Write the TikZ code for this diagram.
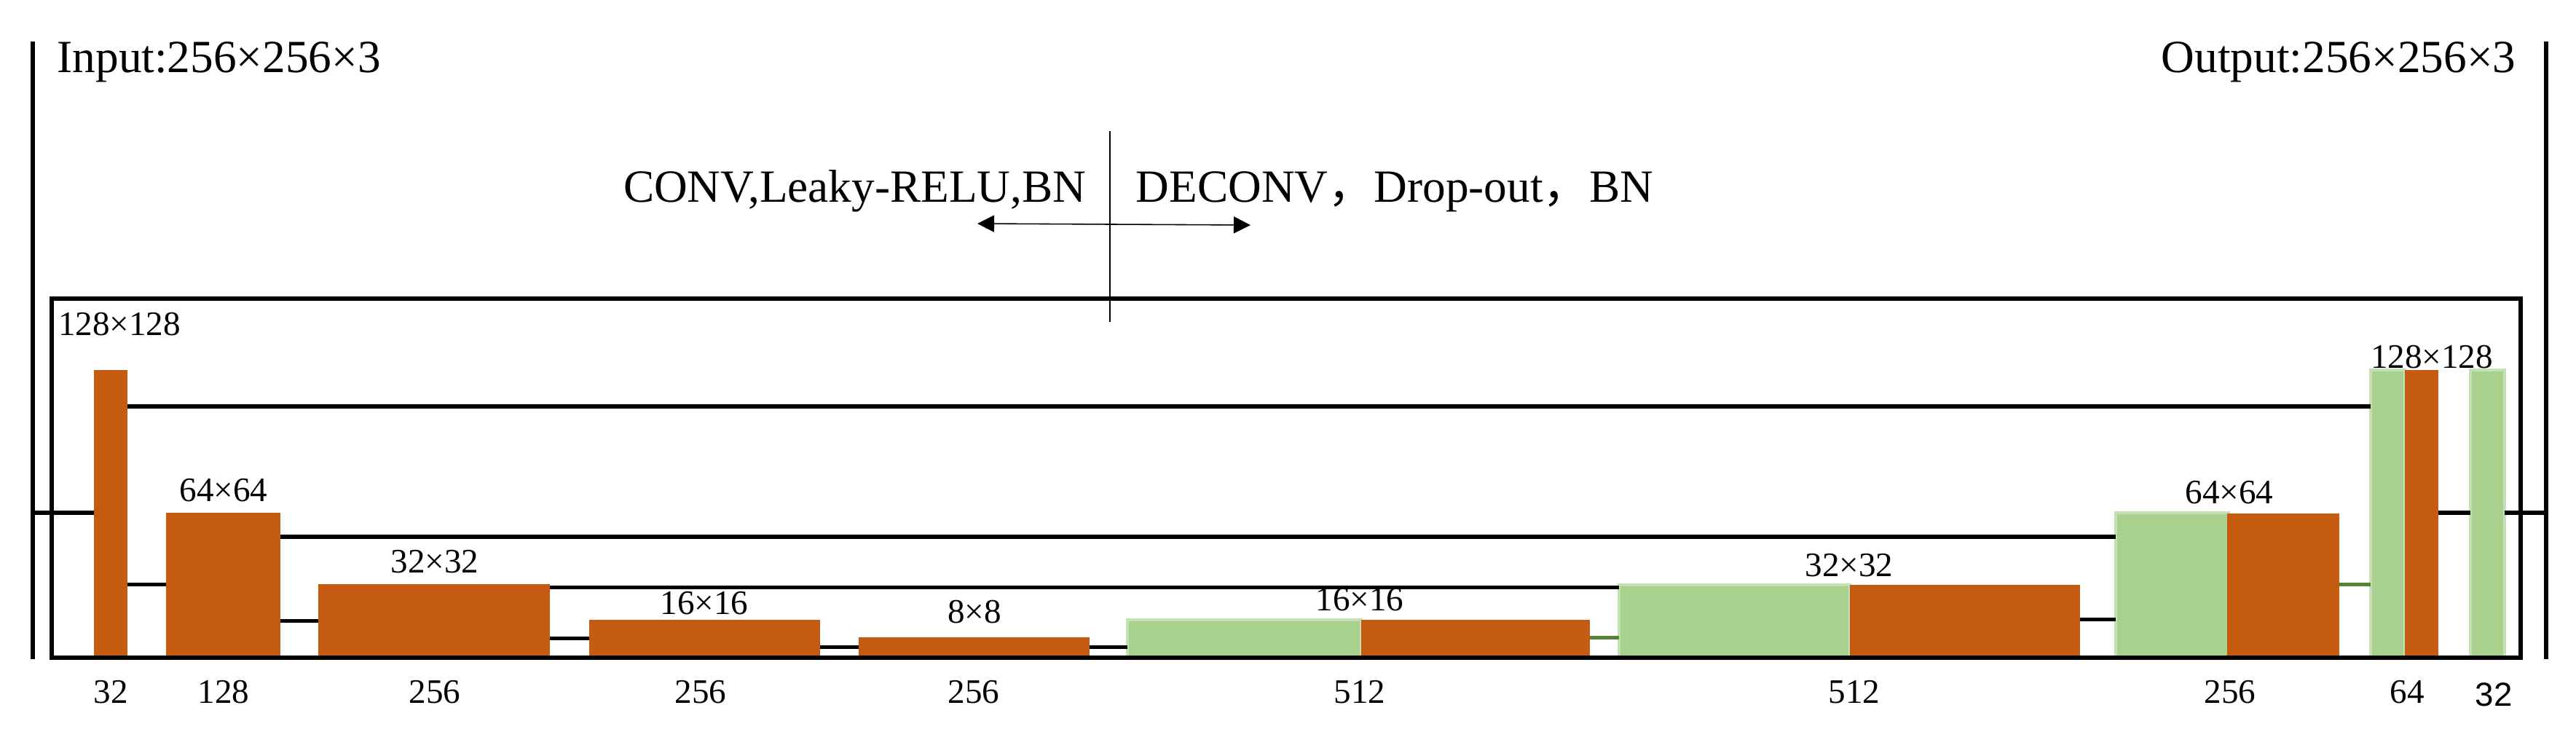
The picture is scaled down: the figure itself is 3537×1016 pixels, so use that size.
\documentclass[tikz,border=0pt]{standalone}
\usepackage{fontspec}
\setmainfont{Liberation Serif}
\newfontfamily\cjk{Noto Sans CJK SC}
\newfontfamily\arialfont{Liberation Sans}
\usetikzlibrary{arrows.meta}
\definecolor{barorange}{RGB}{197,90,17}
\definecolor{bargreen}{RGB}{169,209,142}
\definecolor{greenedge}{RGB}{197,224,180}
\definecolor{greenline}{RGB}{84,130,53}
\newcommand\mybar[5]{%
  \pgfmathsetmacro\bw{(#3-#2)*0.01}%
  \pgfmathsetmacro\bh{(902-#4)*0.01}%
  \node[#5, minimum width=\bw cm, minimum height=\bh cm, anchor=south west] (#1) at (#2,902) {};%
}
\begin{document}
\begin{tikzpicture}[x=0.01cm,y=-0.01cm,
  frameline/.style={line width=0.065cm},
  conn/.style={line width=0.05cm},
  gconn/.style={conn, draw=greenline},
  obar/.style={fill=barorange, draw=none, inner sep=0, outer sep=0},
  gbar/.style={fill=bargreen, draw=greenedge, line width=0.035cm, inner sep=0, outer sep=0},
  dimlab/.style={font=\fontsize{13.4}{15}\selectfont, inner sep=0, anchor=base},
  bigtxt/.style={font=\fontsize{18}{20}\selectfont, inner sep=0},
  thinline/.style={line width=0.45pt},
  arr/.style={thinline, -{Triangle[length=0.23cm,width=0.23cm]}},
]
\useasboundingbox (0,0) rectangle (3537,1016);

% bars (encoder)
\mybar{b1}{129}{175}{508}{obar}
\mybar{b2}{228}{385}{704}{obar}
\mybar{b3}{437}{755}{802}{obar}
\mybar{b4}{809}{1126}{851}{obar}
\mybar{b5}{1179}{1496}{875}{obar}
% bars (decoder)
\mybar{b6g}{1548}{1869}{851}{gbar}
\mybar{b6o}{1869}{2183}{851}{obar}
\mybar{b7g}{2223}{2540}{803}{gbar}
\mybar{b7o}{2540}{2856}{803}{obar}
\mybar{b8g}{2905}{3060}{704}{gbar}
\mybar{b8o}{3058}{3212}{705}{obar}
\mybar{b9g}{3255}{3302}{508}{gbar}
\mybar{b9o}{3302}{3348}{508}{obar}
\mybar{b10}{3392}{3439}{508}{gbar}

% outer lines and frame
\coordinate (Ltop) at (45,57);
\coordinate (Lbot) at (45,905);
\coordinate (Rtop) at (3496,57);
\coordinate (Rbot) at (3496,905);
\draw[frameline] (Ltop) -- (Lbot);
\draw[frameline] (Rtop) -- (Rbot);
\draw[frameline] (71,410) rectangle (3461,903);

% input / output connectors
\draw[conn] (Ltop |- 0,704) -- (b1.west |- 0,704);
\draw[conn] (b10.east |- 0,704) -- (Rtop |- 0,704);

% chain connectors
\draw[conn] (b1.east |- 0,802) -- (b2.west |- 0,802);
\draw[conn] (b2.east |- 0,852) -- (b3.west |- 0,852);
\draw[conn] (b3.east |- 0,876) -- (b4.west |- 0,876);
\draw[conn] (b4.east |- 0,888) -- (b5.west |- 0,888);
\draw[conn] (b5.east |- 0,888) -- (b6g.west |- 0,888);
\draw[gconn] (b6o.east |- 0,875) -- (b7g.west |- 0,875);
\draw[conn] (b7o.east |- 0,850) -- (b8g.west |- 0,850);
\draw[gconn] (b8o.east |- 0,802) -- (b9g.west |- 0,802);
\draw[conn] (b9o.east |- 0,704) -- (b10.west |- 0,704);

% skip connections
\draw[conn] (b1.east |- 0,558) -- (b9g.west |- 0,558);
\draw[conn] (b2.east |- 0,737) -- (b8g.west |- 0,737);
\draw[conn] (b3.east |- 0,806) -- (b7g.west |- 0,806);

% size labels
\node[dimlab] (l1) at (164,461) {128×128};
\node[dimlab] (l2) at (307,688) {64×64};
\node[dimlab] (l3) at (597,786) {32×32};
\node[dimlab] (l4) at (967,843) {16×16};
\node[dimlab] (l5) at (1338,855) {8×8};
\node[dimlab] (l6) at (1867,838) {16×16};
\node[dimlab] (l7) at (2539,791) {32×32};
\node[dimlab] (l8) at (3061,692) {64×64};
\node[dimlab] (l9) at (3339,506) {128×128};

% channel labels
\node[dimlab] (c1) at (152,965) {32};
\node[dimlab] (c2) at (307,965) {128};
\node[dimlab] (c3) at (597,965) {256};
\node[dimlab] (c4) at (962,965) {256};
\node[dimlab] (c5) at (1337,965) {256};
\node[dimlab] (c6) at (1867,965) {512};
\node[dimlab] (c7) at (2546,965) {512};
\node[dimlab] (c8) at (3062,965) {256};
\node[dimlab] (c9) at (3305,965) {64};
\node[dimlab, font=\arialfont\fontsize{13}{15}\selectfont] (c10) at (3424,969) {32};

% titles
\node[bigtxt, anchor=base west] (inp) at (78,100) {Input:256×256×3};
\node[bigtxt, anchor=base east] (outp) at (3455,100) {Output:256×256×3};
\node[bigtxt, anchor=base east] (enc) at (1492,278) {CONV,Leaky-RELU,BN};
\node[bigtxt, anchor=base west] (dec) at (1559,278) {DECONV{\cjk ，}Drop-out{\cjk ，}BN};

% divider and arrows
\coordinate (dtop) at (1524,180);
\coordinate (dbot) at (1524,442);
\coordinate (amid) at (1524,308);
\coordinate (aleft) at (1342,307);
\coordinate (aright) at (1717,309);
\draw[thinline] (dtop) -- (dbot);
\draw[arr] (amid) -- (aleft);
\draw[arr] (amid) -- (aright);
\end{tikzpicture}
\end{document}
